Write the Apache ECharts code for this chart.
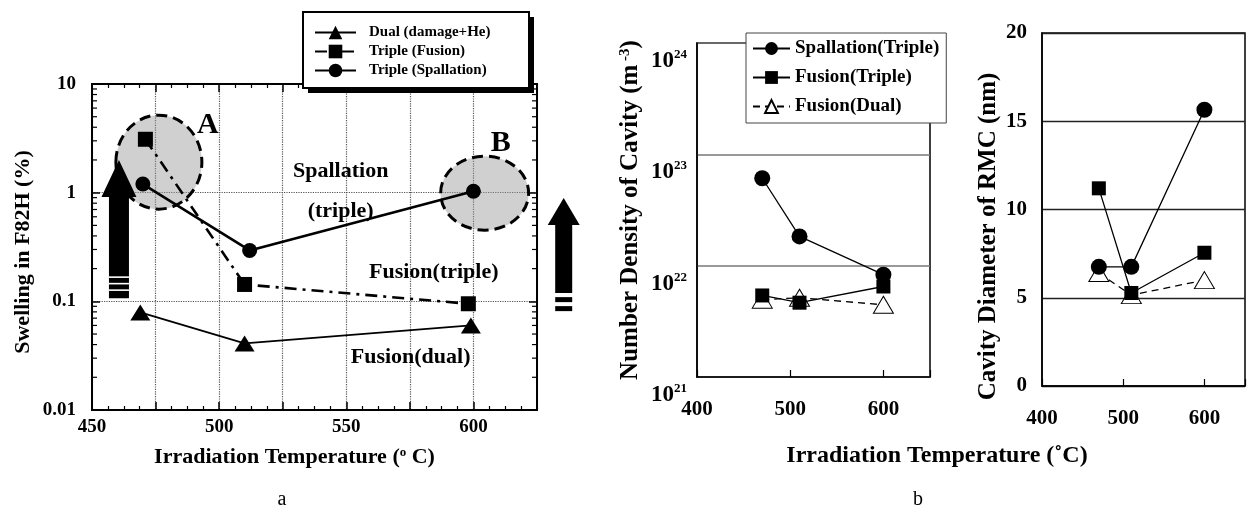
<!DOCTYPE html>
<html><head><meta charset="utf-8">
<script src="https://cdn.jsdelivr.net/npm/echarts@6/dist/echarts.min.js"></script>
<style>html,body{margin:0;padding:0;background:#fff}#c{width:1252px;height:511px}</style>
</head><body><div id="c"></div>
<script>
// ---------- data ----------
const namesA = ['Dual (damage+He)', 'Triple (Fusion)', 'Triple (Spallation)'];
const aDualTemp = [469, 510, 599];
const aDualSwell = [0.079, 0.041, 0.060];
const aFusTemp = [471, 510, 598];
const aFusSwell = [3.1, 0.143, 0.095];
const aSpalTemp = [470, 512, 600];
const aSpalSwell = [1.2, 0.294, 1.03];
const aXTickLabels = [450, 500, 550, 600];
const aYTickLabels = ['0.01', '0.1', '1', '10'];

const namesB = ['Spallation(Triple)', 'Fusion(Triple)', 'Fusion(Dual)'];
const bTemp = [470, 510, 600];
const bDensSpal = [6.1e22, 1.83e22, 8.3e21];
const bDensFus = [5.4e21, 4.65e21, 6.5e21];
const bDensDual = [4.95e21, 5.15e21, 4.45e21];
const bDiamSpal = [6.75, 6.75, 15.65];
const bDiamFus = [11.2, 5.27, 7.55];
const bDiamDual = [6.4, 5.15, 6.0];
const bXTickLabels = [400, 500, 600];

// ---------- helpers ----------
const FONT = '"Liberation Serif", "Times New Roman", serif';
const zip = (xs, ys) => xs.map((x, i) => [x, ys[i]]);
const bold = (size) => ({ fontSize: size, fontWeight: 'bold', fontFamily: FONT, color: '#000' });

const minorLog = [];
for (let d = -2; d <= 0; d++) for (let m = 2; m <= 9; m++) minorLog.push(+(m * Math.pow(10, d)).toPrecision(3));

const chart = echarts.init(document.getElementById('c'), null, { renderer: 'canvas' });

const option = {
  backgroundColor: '#fff',
  animation: false,
  grid: [
    { left: 92, right: 715, top: 84, bottom: 101, show: true, borderColor: '#000', borderWidth: 2, outerBoundsMode: 'none' },
    { left: 697, right: 322, top: 43, bottom: 134, show: true, borderColor: '#000', borderWidth: 1.5, outerBoundsMode: 'none' },
    { left: 1042, right: 7, top: 33, bottom: 125, show: true, borderColor: '#000', borderWidth: 1.5, outerBoundsMode: 'none' }
  ],
  legend: [
    {
      data: namesA, orient: 'vertical', left: 303, top: 12,
      padding: [13, 38, 6, 11], itemGap: 4, itemWidth: 41, itemHeight: 17,
      backgroundColor: 'transparent', borderWidth: 0,
      textStyle: Object.assign(bold(15), { padding: [0, 0, 0, 8] }),
      selectedMode: false, z: 10
    },
    {
      data: namesB, orient: 'vertical', left: 746, top: 33,
      padding: [6, 7, 7, 6], itemGap: 10, itemWidth: 37, itemHeight: 16,
      backgroundColor: '#fff', borderColor: '#444', borderWidth: 1,
      textStyle: bold(19), selectedMode: false, z: 10
    }
  ],
  xAxis: [
    {
      gridIndex: 0, type: 'value', position: 'bottom', min: 450, max: 625, interval: 25,
      axisLine: { show: true, lineStyle: { color: '#000', width: 2 } },
      axisTick: { show: true, inside: true, length: 8, lineStyle: { color: '#000', width: 1.5 } },
      minorTick: { show: true, splitNumber: 4, length: 4, lineStyle: { color: '#000', width: 1.2 } },
      splitLine: { show: true, lineStyle: { color: '#555', type: 'dotted', width: 1.2 } },
      axisLabel: Object.assign(bold(19), { margin: 8, formatter: v => aXTickLabels.indexOf(v) >= 0 ? String(v) : '' }),
      name: '{t|Irradiation Temperature (}{s|o}{t| C)}', nameLocation: 'middle', nameGap: 36, nameMoveOverlap: false,
      nameTextStyle: { padding: [0, 40, 0, 0], rich: { t: bold(22), s: Object.assign(bold(13), { verticalAlign: 'top' }) } }
    },
    {
      gridIndex: 0, type: 'value', position: 'top', min: 450, max: 625, interval: 25,
      axisLine: { show: true, lineStyle: { color: '#000', width: 2 } },
      axisTick: { show: true, inside: true, length: 8, lineStyle: { color: '#000', width: 1.5 } },
      minorTick: { show: true, splitNumber: 4, length: 4, lineStyle: { color: '#000', width: 1.2 } },
      splitLine: { show: false }, axisLabel: { show: false }
    },
    {
      gridIndex: 1, type: 'value', min: 400, max: 650, interval: 100,
      axisLine: { show: true, lineStyle: { color: '#000', width: 1.5 } },
      axisTick: { show: true, inside: true, length: 7, lineStyle: { color: '#000', width: 1.2 } },
      splitLine: { show: false },
      axisLabel: Object.assign(bold(21), { margin: 22, formatter: v => bXTickLabels.indexOf(v) >= 0 ? String(v) : '' })
    },
    {
      gridIndex: 2, type: 'value', min: 400, max: 650, interval: 100,
      axisLine: { show: true, lineStyle: { color: '#000', width: 1.5 } },
      axisTick: { show: true, inside: true, length: 7, lineStyle: { color: '#000', width: 1.2 } },
      splitLine: { show: false },
      axisLabel: Object.assign(bold(21), { margin: 22, formatter: v => bXTickLabels.indexOf(v) >= 0 ? String(v) : '' })
    }
  ],
  yAxis: [
    {
      gridIndex: 0, type: 'log', logBase: 10, min: 0.01, max: 10, position: 'left',
      axisLine: { show: true, lineStyle: { color: '#000', width: 2 } },
      axisTick: { show: true, inside: true, length: 8, lineStyle: { color: '#000', width: 1.5 } },
      splitLine: { show: true, lineStyle: { color: '#555', type: 'dotted', width: 1.2 } },
      axisLabel: Object.assign(bold(19), { margin: 16, formatter: v => aYTickLabels[Math.round(Math.log10(v)) + 2] || '' }),
      name: 'Swelling in F82H (%)', nameLocation: 'middle', nameGap: 58, nameMoveOverlap: false,
      nameTextStyle: Object.assign(bold(22), { padding: [0, 10, 0, 0] })
    },
    {
      gridIndex: 0, type: 'log', logBase: 10, min: 0.01, max: 10, position: 'right',
      axisLine: { show: true, lineStyle: { color: '#000', width: 2 } },
      axisTick: { show: true, inside: true, length: 8, lineStyle: { color: '#000', width: 1.5 } },
      splitLine: { show: false }, axisLabel: { show: false }
    },
    {
      gridIndex: 1, type: 'log', logBase: 10, min: 1e21, max: 1e24,
      axisLine: { show: true, lineStyle: { color: '#000', width: 1.5 } },
      axisTick: { show: false },
      splitLine: { show: true, lineStyle: { color: '#777', width: 1.5 } },
      axisLabel: {
        margin: 10, verticalAlign: 'top', padding: [5, 0, 0, 0],
        formatter: v => '{a|10}{b|' + Math.round(Math.log10(v)) + '}',
        rich: { a: Object.assign(bold(23), { lineHeight: 26 }), b: Object.assign(bold(13), { verticalAlign: 'top' }) }
      },
      name: '{t|Number Density of Cavity (m}{s| -3}{t|)}', nameLocation: 'middle', nameGap: 54, nameMoveOverlap: false,
      nameTextStyle: { rich: { t: bold(25), s: Object.assign(bold(15), { verticalAlign: 'top' }) } }
    },
    {
      gridIndex: 2, type: 'value', min: 0, max: 20, interval: 5,
      axisLine: { show: true, lineStyle: { color: '#000', width: 1.5 } },
      axisTick: { show: false },
      splitLine: { show: true, lineStyle: { color: '#222', width: 1.3 } },
      axisLabel: Object.assign(bold(21), { margin: 15 }),
      name: 'Cavity Diameter of RMC (nm)', nameLocation: 'middle', nameGap: 41, nameMoveOverlap: false,
      nameTextStyle: Object.assign(bold(25), { padding: [0, 54, 0, 0] })
    }
  ],
  series: [
    // panel a
    { name: namesA[0], type: 'line', xAxisIndex: 0, yAxisIndex: 0, data: zip(aDualTemp, aDualSwell),
      symbol: 'triangle', symbolSize: [20, 16], itemStyle: { color: '#000' }, lineStyle: { color: '#000', width: 1.8 }, z: 3 },
    { name: namesA[1], type: 'line', xAxisIndex: 0, yAxisIndex: 0, data: zip(aFusTemp, aFusSwell),
      symbol: 'rect', symbolSize: 15, itemStyle: { color: '#000' }, lineStyle: { color: '#000', width: 2.6, type: [12, 6, 3, 6] }, z: 3 },
    { name: namesA[2], type: 'line', xAxisIndex: 0, yAxisIndex: 0, data: zip(aSpalTemp, aSpalSwell),
      symbol: 'circle', symbolSize: 15, itemStyle: { color: '#000' }, lineStyle: { color: '#000', width: 2.6 }, z: 3 },
    { name: 'minor-log-ticks', type: 'custom', xAxisIndex: 0, yAxisIndex: 0, silent: true, clip: false, z: 5,
      data: minorLog.map(v => [450, v]), encode: { x: 0, y: 1 }, tooltip: { show: false },
      renderItem: (params, api) => {
        const v = api.value(1);
        const l = api.coord([450, v]), r = api.coord([625, v]);
        return { type: 'group', children: [
          { type: 'line', shape: { x1: l[0], y1: l[1], x2: l[0] + 5, y2: l[1] }, style: { stroke: '#000', lineWidth: 1.2 } },
          { type: 'line', shape: { x1: r[0] - 5, y1: r[1], x2: r[0], y2: r[1] }, style: { stroke: '#000', lineWidth: 1.2 } }
        ] };
      } },
    // panel b - density
    { name: namesB[0], type: 'line', xAxisIndex: 2, yAxisIndex: 2, data: zip(bTemp, bDensSpal),
      symbol: 'circle', symbolSize: 16, itemStyle: { color: '#000' }, lineStyle: { color: '#000', width: 1.3 }, z: 3 },
    { name: namesB[2], type: 'line', xAxisIndex: 2, yAxisIndex: 2, data: zip(bTemp, bDensDual),
      symbol: 'triangle', symbolSize: [20, 17], itemStyle: { color: '#fff', borderColor: '#000', borderWidth: 1 },
      lineStyle: { color: '#000', width: 1.3, type: [7, 5] }, z: 3 },
    { name: namesB[1], type: 'line', xAxisIndex: 2, yAxisIndex: 2, data: zip(bTemp, bDensFus),
      symbol: 'rect', symbolSize: 14, itemStyle: { color: '#000' }, lineStyle: { color: '#000', width: 1.3 }, z: 4 },
    // panel b - diameter
    { name: namesB[2], type: 'line', xAxisIndex: 3, yAxisIndex: 3, data: zip(bTemp, bDiamDual),
      symbol: 'triangle', symbolSize: [20, 17], itemStyle: { color: '#fff', borderColor: '#000', borderWidth: 1 },
      lineStyle: { color: '#000', width: 1.3, type: [7, 5] }, z: 3 },
    { name: namesB[0], type: 'line', xAxisIndex: 3, yAxisIndex: 3, data: zip(bTemp, bDiamSpal),
      symbol: 'circle', symbolSize: 16, itemStyle: { color: '#000' }, lineStyle: { color: '#000', width: 1.3 }, z: 3 },
    { name: namesB[1], type: 'line', xAxisIndex: 3, yAxisIndex: 3, data: zip(bTemp, bDiamFus),
      symbol: 'rect', symbolSize: 14, itemStyle: { color: '#000' }, lineStyle: { color: '#000', width: 1.3 }, z: 4 }
  ]
};
chart.setOption(option);

// ---------- annotations (anchored in panel-a data space) ----------
const P = (x, y) => chart.convertToPixel({ gridIndex: 0 }, [x, y]);
function arrow(cx, tipY, baseY, botY, headHalf, shaftHalf) {
  return { type: 'polygon', z: 6, shape: { points: [
    [cx, tipY], [cx + headHalf, baseY], [cx + shaftHalf, baseY], [cx + shaftHalf, botY],
    [cx - shaftHalf, botY], [cx - shaftHalf, baseY], [cx - headHalf, baseY]] },
    style: { fill: '#000' } };
}
const eA = P(476.3, 1.91), eB = P(604.4, 0.99);
const la = P(460.6, 2.0), laBase = P(460.6, 0.91), laBot = P(460.6, 0.107);
const ra = P(635.5, 0.893), raBase = P(635.5, 0.503), raBot = P(635.5, 0.119);
const txt = (p, s, size, extra) => Object.assign({ type: 'text', z: 7, x: p[0], y: p[1],
  style: { text: s, font: 'bold ' + size + 'px ' + FONT, fill: '#000', align: 'center', verticalAlign: 'middle' } }, extra || {});
const graphics = [
  // legend (a) frame with heavy drop shadow, drawn behind the legend items
  { type: 'rect', z: 8, shape: { x: 308, y: 17, width: 226, height: 76 }, style: { fill: '#000' } },
  { type: 'rect', z: 9, shape: { x: 303, y: 12, width: 226, height: 76 }, style: { fill: '#fff', stroke: '#000', lineWidth: 2 } },
  { type: 'ellipse', z: 1, shape: { cx: eA[0], cy: eA[1], rx: 43, ry: 47 },
    style: { fill: 'rgba(150,150,150,0.45)', stroke: '#000', lineWidth: 3, lineDash: [11, 6] } },
  { type: 'ellipse', z: 1, shape: { cx: eB[0], cy: eB[1], rx: 44, ry: 37 },
    style: { fill: 'rgba(150,150,150,0.45)', stroke: '#000', lineWidth: 3, lineDash: [11, 6] } },
  arrow(la[0], la[1], laBase[1], laBot[1], 17.5, 10),
  arrow(ra[0], ra[1], raBase[1], raBot[1], 16, 8.5),
  { type: 'rect', z: 7, shape: { x: ra[0] - 8.5, y: raBot[1] + 4, width: 17, height: 5 }, style: { fill: '#000' } },
  { type: 'rect', z: 7, shape: { x: ra[0] - 8.5, y: raBot[1] + 13, width: 17, height: 5 }, style: { fill: '#000' } },
  txt(P(495.6, 4.2), 'A', 30),
  txt(P(610.7, 2.87), 'B', 30),
  txt(P(547.8, 1.58), 'Spallation', 22),
  txt(P(547.8, 0.678), '(triple)', 22),
  txt(P(584.4, 0.186), 'Fusion(triple)', 22),
  txt(P(575.3, 0.0308), 'Fusion(dual)', 22),
  { type: 'text', z: 7, x: 937, y: 456, style: { text: 'Irradiation Temperature (˚C)', font: 'bold 24px ' + FONT, fill: '#000', align: 'center', verticalAlign: 'middle' } },
  { type: 'text', z: 7, x: 282, y: 500, style: { text: 'a', font: '20px ' + FONT, fill: '#000', align: 'center', verticalAlign: 'middle' } },
  { type: 'text', z: 7, x: 918, y: 500, style: { text: 'b', font: '20px ' + FONT, fill: '#000', align: 'center', verticalAlign: 'middle' } }
];
[277, 283.5, 290].forEach(y => {
  const off = y - 298;
  graphics.push({ type: 'rect', z: 7, shape: { x: la[0] - 10, y: laBot[1] + off - 0.8, width: 20, height: 1.6 }, style: { fill: '#fff' } });
});
chart.setOption({ graphic: graphics });
</script>
</body></html>
